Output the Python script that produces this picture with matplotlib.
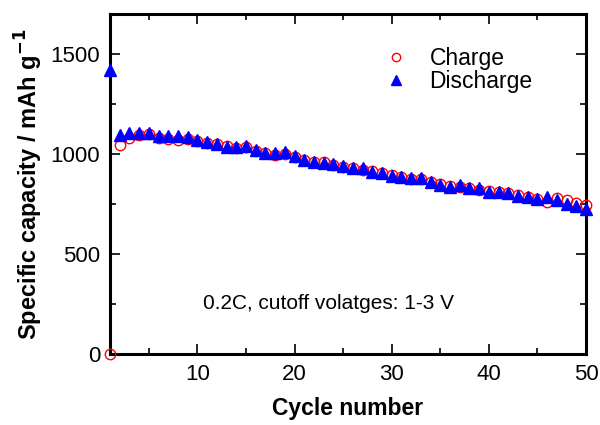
import numpy as np
from matplotlib import pyplot as plt

plt.rcParams["font.family"] = ["Liberation Sans", "DejaVu Sans"]

cycles = np.arange(1, 51)

charge = [0, 1045, 1080, 1095, 1100, 1080, 1075, 1070, 1075, 1065,
          1055, 1050, 1040, 1030, 1035, 1015, 1005, 995, 1000, 985,
          970, 960, 960, 945, 935, 930, 920, 915, 905, 895,
          885, 875, 875, 860, 850, 840, 835, 830, 820, 815,
          810, 805, 795, 785, 775, 762, 778, 768, 757, 745]

discharge = [1420, 1095, 1107, 1103, 1103, 1092, 1092, 1092, 1083, 1070,
             1062, 1050, 1037, 1037, 1040, 1020, 1007, 1003, 1012, 990,
             970, 962, 957, 950, 942, 928, 928, 912, 907, 892,
             883, 878, 878, 862, 845, 837, 845, 832, 828, 812,
             812, 807, 790, 783, 775, 787, 770, 748, 740, 723]

fig = plt.figure(figsize=(6, 4.25), dpi=100)
ax = fig.add_axes([0.1833, 0.167, 0.7934, 0.800])

ax.plot(cycles, charge, "o", mfc="none", mec="red", mew=1.0, ms=7.5,
        label="Charge", clip_on=False, zorder=3)
ax.plot(cycles, discharge, "^", color="blue", ms=8.5,
        label="Discharge", clip_on=False, zorder=4)

ax.set_xlim(1, 50)
ax.set_ylim(0, 1700)
ax.set_xticks([10, 20, 30, 40, 50])
ax.set_xticks([5, 15, 25, 35, 45], minor=True)
ax.set_yticks([0, 500, 1000, 1500])
ax.set_yticks([250, 750, 1250], minor=True)

ax.tick_params(which="both", direction="in", top=True, right=True,
               labelsize=16, width=1.2)
ax.tick_params(which="major", length=7, pad=7)
ax.tick_params(which="minor", length=4)
for s in ax.spines.values():
    s.set_linewidth(2.2)

ax.set_xlabel("Cycle number", fontsize=16.5, fontweight="bold", labelpad=9)
ax.set_ylabel("Specific capacity / mAh g$^{\\mathbf{-1}}$", fontsize=17,
              fontweight="bold", labelpad=4)

ax.text(10.6, 255, "0.2C, cutoff volatges: 1-3 V", fontsize=15, va="center")

ax.legend(loc="upper right", frameon=False, fontsize=16.5, handletextpad=0.7,
          borderaxespad=0.0, labelspacing=0.0, markerscale=0.8,
          handlelength=1.5, bbox_to_anchor=(0.907, 0.93))

fig.savefig("out.png", dpi=100)
